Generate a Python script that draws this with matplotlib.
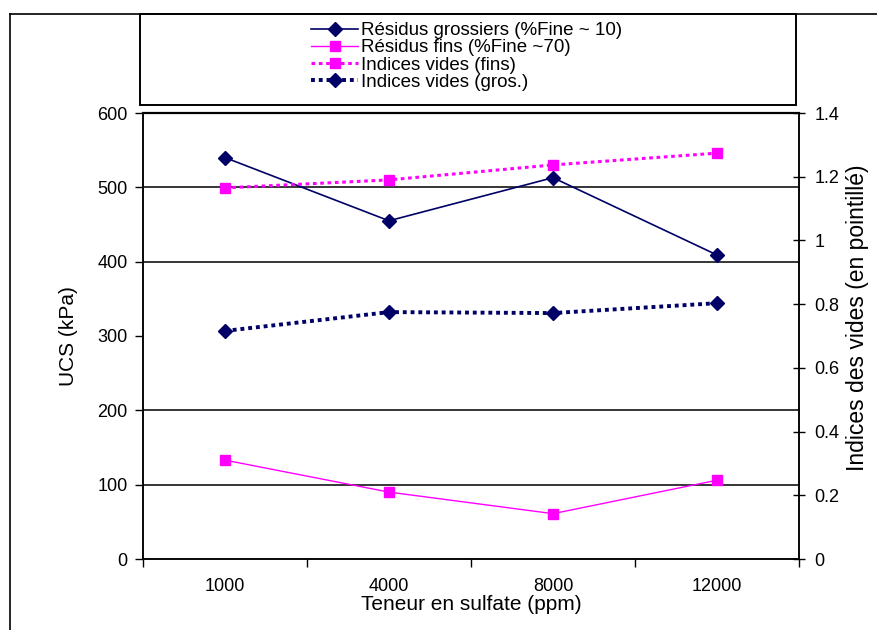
import numpy as np
import matplotlib.pyplot as plt
from matplotlib.lines import Line2D
from matplotlib.patches import Rectangle

plt.rcParams['font.family'] = ['Liberation Sans', 'DejaVu Sans']

categories = ["1000", "4000", "8000", "12000"]
ucs_gros = [540, 455, 513, 409]
ucs_fins = [133, 90, 61, 106]
vides_fins = [1.165, 1.19, 1.237, 1.274]
vides_gros = [0.716, 0.775, 0.772, 0.803]
grid_levels = [100, 200, 400, 500]

navy = "#000066"
pink = "#ff00ff"

fig = plt.figure(figsize=(8.77, 6.3), dpi=100)
ax = fig.add_axes([143 / 877, 71 / 630, 656 / 877, 446 / 630])
ax2 = ax.twinx()

x = np.arange(len(categories))

for g in grid_levels:
    ax.axhline(g, color="black", lw=1.1, zorder=1)

l1, = ax.plot(x, ucs_gros, color=navy, lw=1.2, marker="D", ms=7,
              label="Résidus grossiers (%Fine ~ 10)", zorder=3)
l2, = ax.plot(x, ucs_fins, color=pink, lw=1.0, marker="s", ms=7,
              label="Résidus fins (%Fine ~70)", zorder=3)
l3, = ax2.plot(x, vides_fins, color=pink, lw=2.2, ls=(0, (1.2, 1.2)),
               marker="s", ms=7, label="Indices vides (fins)")
l4, = ax2.plot(x, vides_gros, color=navy, lw=2.8, ls=(0, (1.0, 1.0)),
               marker="D", ms=7, label="Indices vides (gros.)")

ax.set_xlim(-0.5, 3.5)
ax.set_ylim(0, 600)
ax2.set_ylim(0, 1.4)

ax.set_xticks(np.arange(-0.5, 4.0, 1.0))
ax.set_xticklabels([])
ax.set_xticks(x, minor=True)
ax.set_xticklabels(categories, minor=True)
ax.tick_params(axis="x", which="major", direction="out", length=6, width=1)
ax.tick_params(axis="x", which="minor", length=0, pad=14, labelsize=13)

ax.set_yticks(np.arange(0, 601, 100))
ax.tick_params(axis="y", direction="out", length=6, width=1, labelsize=13,
               pad=5)
ax2.set_yticks(np.arange(0, 1.41, 0.2))
ax2.set_yticklabels(["0", "0.2", "0.4", "0.6", "0.8", "1", "1.2", "1.4"])
ax2.tick_params(axis="y", direction="inout", length=8, width=1, labelsize=13,
                pad=7)

for a in (ax, ax2):
    for s in a.spines.values():
        s.set_color("black")
        s.set_linewidth(1.1)
ax.spines["top"].set_linewidth(1.6)

ax.set_xlabel("Teneur en sulfate (ppm)", fontsize=15, labelpad=0)
ax.set_ylabel("UCS (kPa)", fontsize=15, labelpad=14)
ax2.set_ylabel("Indices des vides (en pointillé)", fontsize=16.5)
ax2.yaxis.set_label_coords(1.072, 0.54)

# outer frame lines and legend box
fig.add_artist(Line2D([10 / 877, 10 / 877], [0, 1 - 14 / 630],
                      transform=fig.transFigure, color="black", lw=1.2))
fig.add_artist(Line2D([10 / 877, 1], [1 - 14 / 630, 1 - 14 / 630],
                      transform=fig.transFigure, color="black", lw=1.2))
fig.add_artist(Rectangle((140 / 877, 1 - 105 / 630), 656 / 877, 91 / 630,
                         transform=fig.transFigure, fill=False,
                         edgecolor="black", lw=1.4))

fig.legend(handles=[l1, l2, l3, l4], loc="upper left",
           bbox_to_anchor=(300 / 877, 1 - 11 / 630), frameon=False,
           fontsize=13.5, handlelength=2.5, handletextpad=0.15,
           labelspacing=0.0, borderpad=0.1)

fig.savefig("out.png", dpi=100)
